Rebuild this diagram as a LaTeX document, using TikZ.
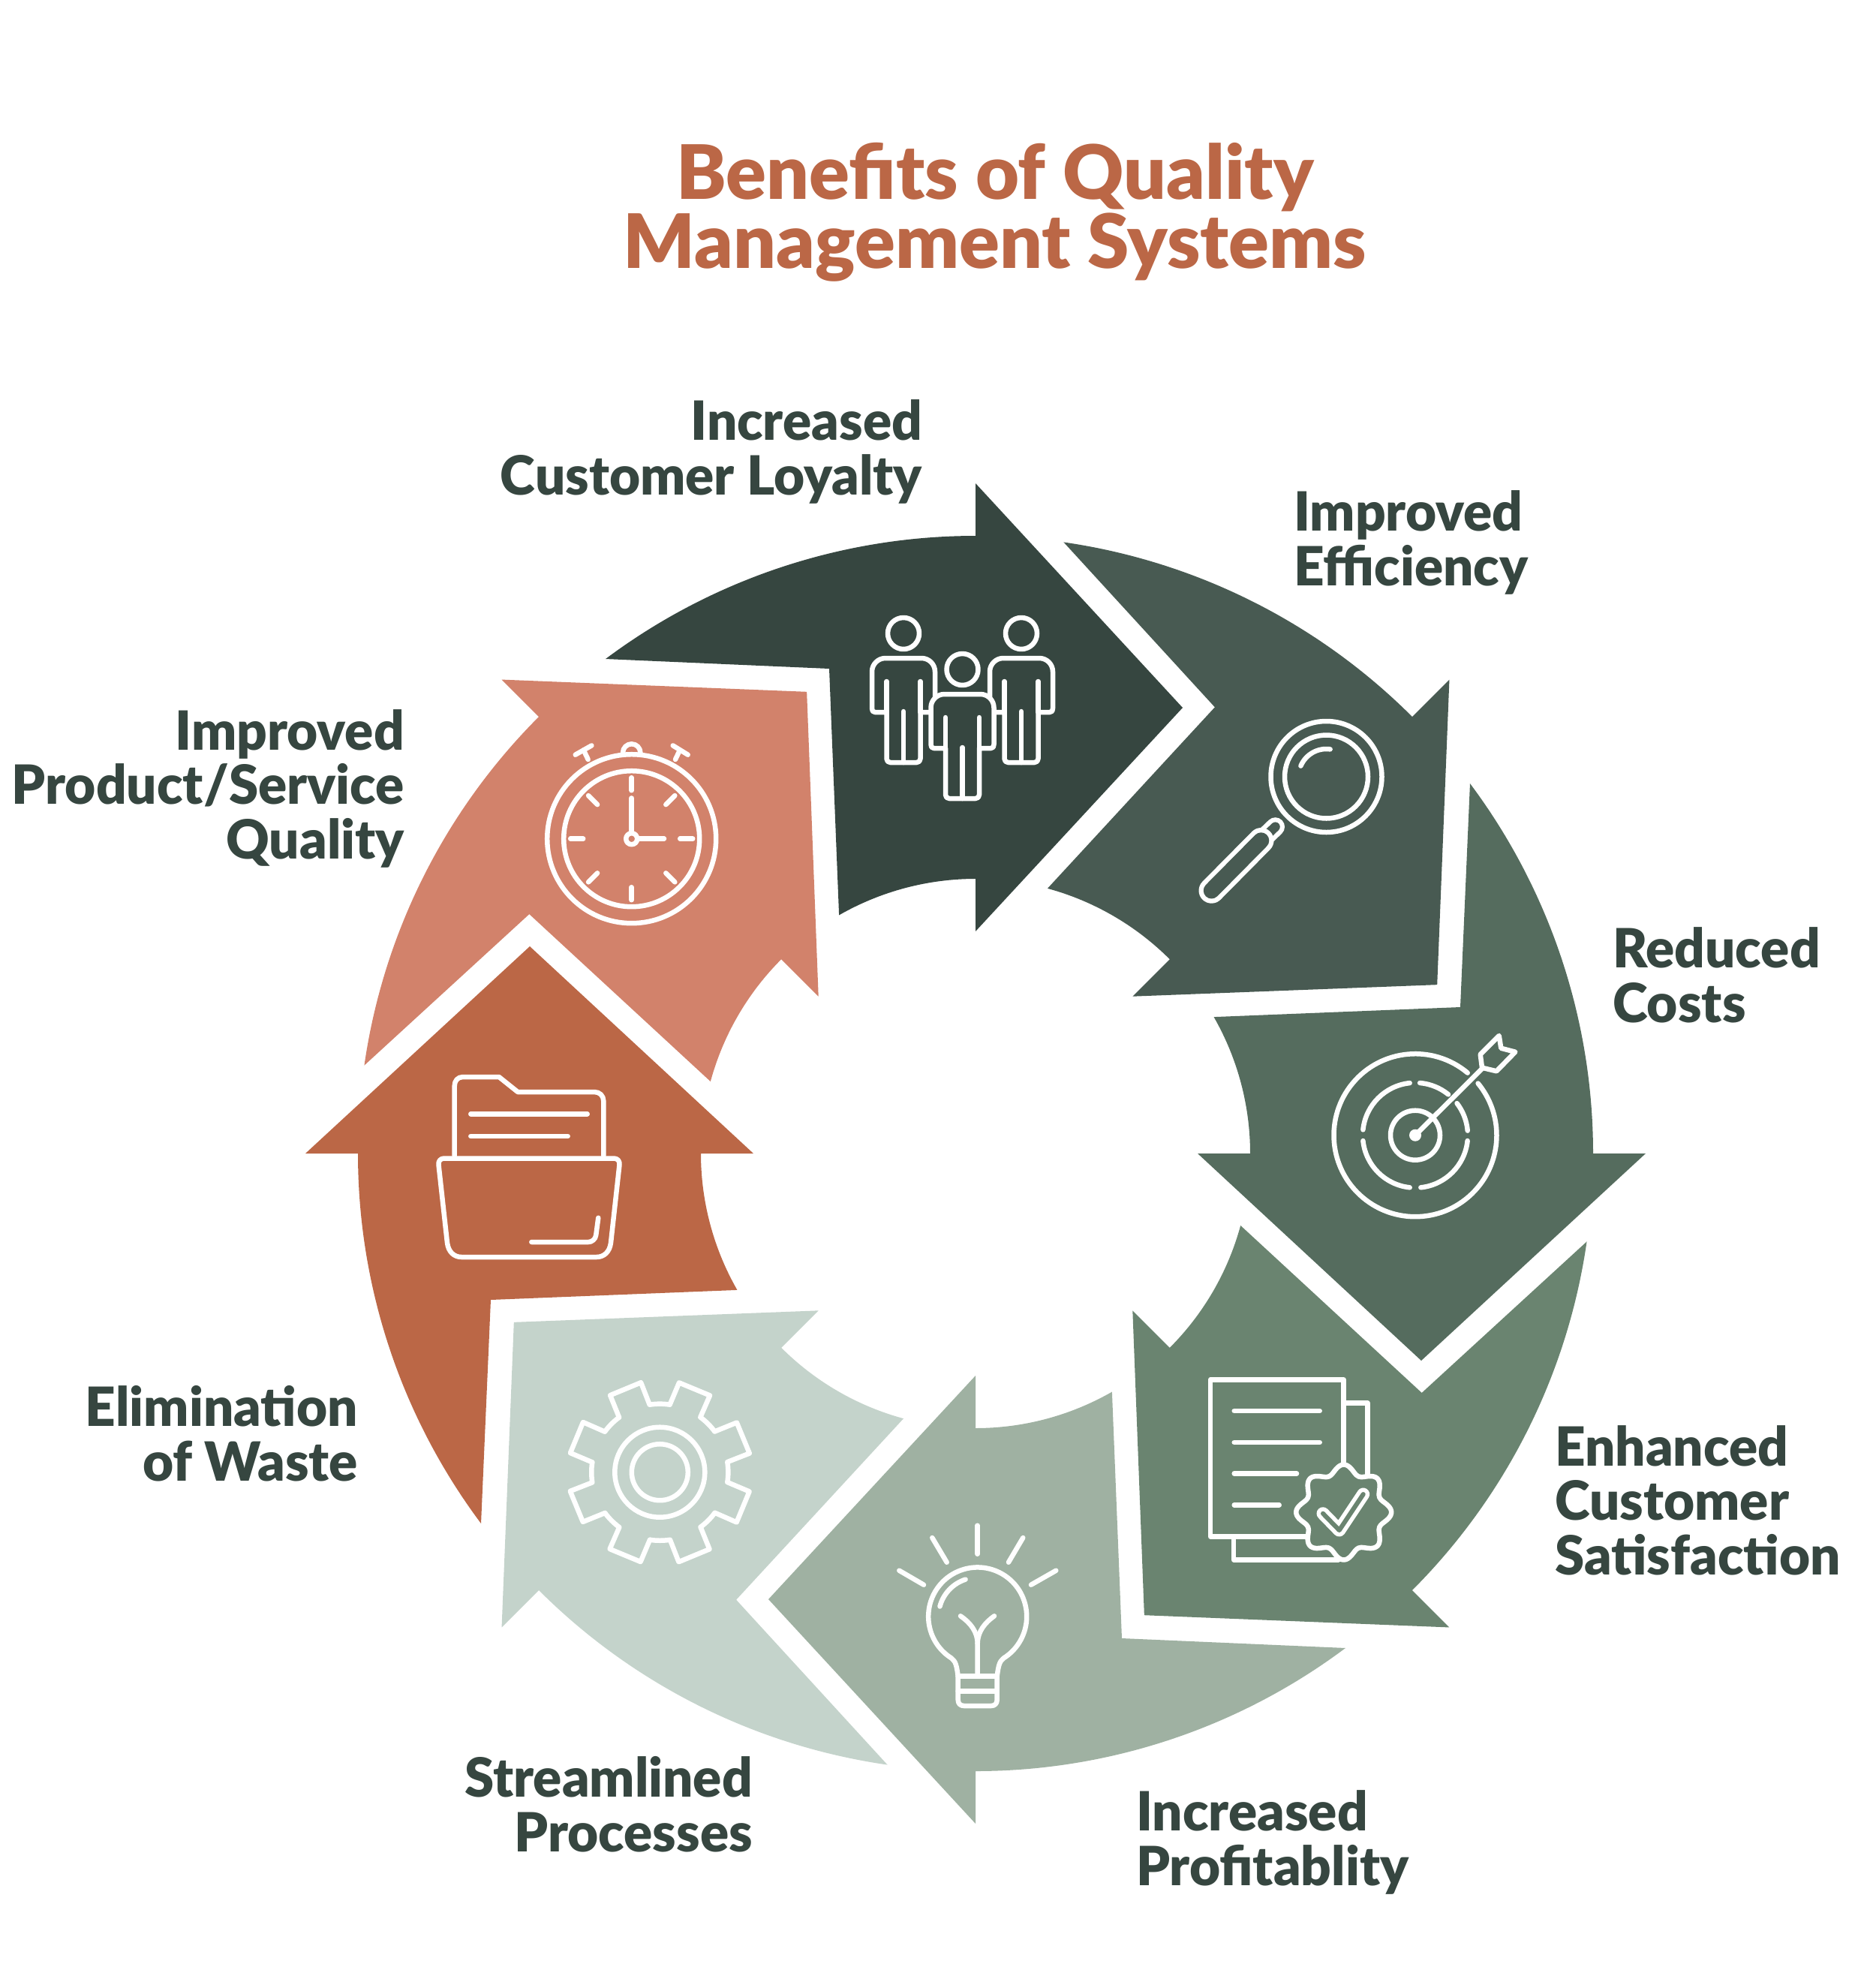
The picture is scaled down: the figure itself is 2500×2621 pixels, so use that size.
\documentclass[tikz,border=0pt]{standalone}
\usepackage{fontspec}
\newfontfamily\lblfont{Lato Black}[FakeStretch=0.985]
\newfontfamily\ttlfont{Lato Black}
\definecolor{colA}{HTML}{364640}
\definecolor{colB}{HTML}{485A52}
\definecolor{colC}{HTML}{556C5E}
\definecolor{colD}{HTML}{6A8470}
\definecolor{colE}{HTML}{9FB1A2}
\definecolor{colF}{HTML}{C4D3CB}
\definecolor{colG}{HTML}{BB6746}
\definecolor{colH}{HTML}{D2826B}
\tikzset{
  icon/.style={draw=white,line width=6.5pt,line cap=round,line join=round},
  lblR/.style={inner sep=0pt,anchor=base east,align=right,text=colA,font=\lblfont\fontsize{72}{72.5}\selectfont},
  lblL/.style={inner sep=0pt,anchor=base west,align=left,text=colA,font=\lblfont\fontsize{72}{72.5}\selectfont},
  ttl/.style={inner sep=0pt,anchor=base,align=center,text=colG,font=\ttlfont\fontsize{100}{90}\selectfont}
}
\newcommand\ringarrow[2]{%
  \fill[#2,shift={(1300,-1537)},rotate=#1]
    (126.8:823) arc[start angle=126.8,end angle=90,radius=823]
    -- (0,893) -- (276,594) -- (0,296) -- (0,366)
    arc[start angle=90,end angle=119.8,radius=366] -- (-195,646) -- cycle;}
\newcommand\myperson[3]{%
  \begin{scope}[shift={(#1,-#2)}]
    \draw[icon] (0,0) circle[radius=21];
    \draw[icon,fill=#3] (-22.5,-105) -- (-38,-105) .. controls (-41,-105) and (-42,-103) .. (-42,-100)
      -- (-42,-51) arc[start angle=180,end angle=90,radius=18] -- (24,-33)
      arc[start angle=90,end angle=0,radius=18] -- (42,-100)
      .. controls (42,-103) and (41,-105) .. (38,-105) -- (22.5,-105) -- (22.5,-167)
      .. controls (22.5,-170) and (20.5,-172) .. (17.5,-172) -- (-17.5,-172)
      .. controls (-20.5,-172) and (-22.5,-170) .. (-22.5,-167) -- cycle;
    \draw[icon] (-22.5,-64) -- (-22.5,-105);
    \draw[icon] (22.5,-64) -- (22.5,-105);
    \draw[icon] (0,-104) -- (0,-172);
  \end{scope}}
\begin{document}
\begin{tikzpicture}[x=1pt,y=1pt]
\useasboundingbox (0,0) rectangle (2500,-2621);
% ring of arrows
\ringarrow{0}{colA}
\ringarrow{-45}{colB}
\ringarrow{-90}{colC}
\ringarrow{-135}{colD}
\ringarrow{-180}{colE}
\ringarrow{-225}{colF}
\ringarrow{-270}{colG}
\ringarrow{-315}{colH}
% title
\node[ttl] (title) at (1326,-357) {Benefits of Quality\\Management Systems};
% labels
\node[lblR] (loyalty) at (1229,-659) {Increased\\Customer Loyalty};
\node[lblL] (efficiency) at (1724,-780) {Improved\\Efficiency};
\node[lblL] (costs) at (2149,-1362) {Reduced\\Costs};
\node[lblL] (satisfaction) at (2072,-2098) {Enhanced\\Customer\\Satisfaction};
\node[lblL] (profit) at (1514,-2512) {Increased\\Profitablity};
\node[lblR] (processes) at (1003,-2467) {Streamlined\\Processes};
\node[lblR] (waste) at (477,-1973) {Elimination\\of Waste};
\node[lblR] (quality) at (539,-1144) {Improved\\Product/Service\\Quality};
% people
\myperson{1204}{844}{colA}
\myperson{1361}{844}{colA}
\myperson{1282.5}{892}{colA}
% magnifier
\begin{scope}[shift={(1767.5,-1035)}]
  \draw[icon] (0,0) circle[radius=74];
  \draw[icon] (0,0) circle[radius=55.5];
  \draw[icon] (157:37) arc[start angle=157,end angle=82,radius=37];
\end{scope}
\draw[line width=25pt,white,line cap=round] (1699.5,-1101.7) -- (1680.5,-1120);
\draw[line width=12.5pt,colB,line cap=round] (1699.5,-1101.7) -- (1680.5,-1120);
\draw[line width=34pt,white,line cap=round] (1614.5,-1186.7) -- (1680.5,-1120);
\draw[line width=21.5pt,colB,line cap=round] (1614.5,-1186.7) -- (1680.5,-1120);
% target
\begin{scope}[shift={(1886,-1512.7)}]
  \draw[icon] (50:108.5) arc[start angle=50,end angle=399.6,radius=108.5];
  \draw[icon] (85:70) arc[start angle=85,end angle=51,radius=70];
  \draw[icon] (37.5:70) arc[start angle=37.5,end angle=5,radius=70];
  \draw[icon] (-6:70) arc[start angle=-6,end angle=-84,radius=70];
  \draw[icon] (-96:70) arc[start angle=-96,end angle=-174,radius=70];
  \draw[icon] (174:70) arc[start angle=174,end angle=96,radius=70];
  \draw[icon] (0,0) circle[radius=33];
  \fill[white] (0,0) circle[radius=8];
\end{scope}
\draw[icon] (1886,-1512.7) -- (1975,-1424);
\draw[icon] (1997.7,-1380) -- (2000.3,-1396.7) -- (2019.3,-1401.7) -- (1994.3,-1427.3) -- (1975,-1422.7) -- (1972.7,-1405) -- cycle;
% document
\begin{scope}[shift={(0.7,0)}]
\draw[icon] (1790,-1869.3) -- (1821.7,-1869.3) -- (1821.7,-1966.7);
\draw[icon] (1643.3,-2047.3) -- (1643.3,-2078.3) -- (1783,-2078.3);
\draw[icon] (1612.3,-1838.3) rectangle (1790,-2047.3);
\draw[icon] (1644,-1880) -- (1758,-1880);
\draw[icon] (1644,-1922) -- (1758,-1922);
\draw[icon] (1644,-1963.3) -- (1727.3,-1963.3);
\draw[icon] (1644,-2005.3) -- (1704,-2005.3);
\begin{scope}[shift={(1790,-2015)}]
  \draw[icon,fill=colD] plot[smooth cycle,samples=96,domain=0:356.25] (\x:{57.5+6*cos(8*\x)});
\end{scope}
\draw[line width=17pt,white,line cap=round,line join=round] (1762.3,-2016.7) -- (1784,-2039) -- (1816,-1991);
\draw[line width=6pt,colD,line cap=round,line join=round] (1762.3,-2016.7) -- (1784,-2039) -- (1816,-1991);
\end{scope}
% bulb
\draw[icon] (1302.7,-2032.7) -- (1302.7,-2070.7);
\draw[icon] (1242.3,-2049) -- (1261.7,-2081.7);
\draw[icon] (1363.3,-2049) -- (1344,-2081.7);
\draw[icon] (1198.3,-2092.7) -- (1231,-2111.7);
\draw[icon] (1407.3,-2092.7) -- (1374,-2111.7);
\begin{scope}[shift={(1302.7,-2154)}]
  \draw[icon] (-26,-79.3) .. controls (-28,-65) and (-29,-60) .. (-35,-55.3)
     arc[start angle=237.7,end angle=-57.7,radius=65.5]
     .. controls (29,-60) and (28,-65) .. (26,-79.3);
  \draw[icon] (165:52) arc[start angle=165,end angle=108,radius=52];
  \draw[icon] (0,-76) -- (0,-36) .. controls (0,-20) and (-10,-8) .. (-22.7,0.7);
  \draw[icon] (0,-36) .. controls (0,-20) and (10,-8) .. (22.3,0.7);
  \draw[icon] (-26,-79.3) -- (26,-79.3);
  \draw[icon] (-26,-99.3) -- (26,-99.3);
  \draw[icon] (-26,-79.3) -- (-26,-111) .. controls (-26,-116) and (-23,-119) .. (-18,-119)
     -- (18,-119) .. controls (23,-119) and (26,-116) .. (26,-111) -- (26,-79.3);
\end{scope}
% gear
\begin{scope}[shift={(879.3,-1961.7)}]
  \foreach \a in {0,45,...,315}
    \draw[icon,rotate=\a] (13.3,90) -- (25.7,119.3) -- (66.7,102.3) -- (54,73.3) arc[start angle=53.6,end angle=36.6,radius=91];
  \draw[icon] (0,0) circle[radius=60];
  \draw[icon] (0,0) circle[radius=37.5];
\end{scope}
% folder
\begin{scope}[shift={(560,-1400)}]
  \draw[icon] (45.7,-140) -- (45.7,-47) .. controls (45.7,-40) and (50,-35) .. (57,-35) -- (105,-35) -- (130,-55) -- (232,-55) .. controls (239,-55) and (244.3,-60) .. (244.3,-67) -- (244.3,-140);
  \draw[icon] (32,-143.5) -- (258,-143.5) .. controls (263,-143.5) and (266,-147) .. (265.5,-152) -- (254,-256) .. controls (252.5,-268) and (245,-275) .. (235,-275) -- (55,-275) .. controls (45,-275) and (37.5,-268) .. (36,-256) -- (24.5,-152) .. controls (24,-147) and (27,-143.5) .. (32,-143.5) -- cycle;
  \draw[icon] (67.3,-84.3) -- (222.7,-84.3);
  \draw[icon] (67.3,-114) -- (196.7,-114);
  \draw[icon,rounded corners=9pt] (148.3,-255) -- (233,-255) -- (237.3,-222.7);
\end{scope}
% stopwatch
\begin{scope}[shift={(841.7,-1117.7)}]
  \draw[icon] (0,0) circle[radius=112.5];
  \draw[icon] (0,0) circle[radius=90.5];
  \foreach \a in {0,45,...,315}
    \draw[icon] (\a:64.5) -- (\a:81.5);
  \draw[icon] (0,0) -- (0,54.3);
  \draw[icon] (0,0) -- (43.3,0);
  \draw[icon,fill=colH] (0,0) circle[radius=7.5];
  \draw[icon] (-11.7,114.7) arc[start angle=180,end angle=0,radius=11.7];
  \draw[icon] (-75,112) -- (-53.3,124.3);
  \draw[icon] (-64,118.3) -- (-58,105.7);
  \draw[icon] (55,124.3) -- (75,112);
  \draw[icon] (64.3,118.3) -- (58.3,105.7);
\end{scope}
\end{tikzpicture}
\end{document}
